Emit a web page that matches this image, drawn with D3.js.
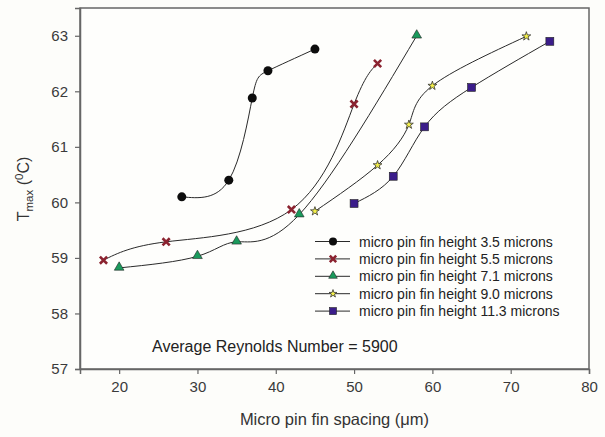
<!DOCTYPE html>
<html>
<head>
<meta charset="utf-8">
<script src="https://cdn.jsdelivr.net/npm/d3@7"></script>
<style>
  body { margin: 0; background: #fdfdfa; }
  svg { font-family: "Liberation Sans", Arial, sans-serif; }
</style>
</head>
<body>
<svg width="605" height="437"></svg>
<script>
// data
let labels = ["micro pin fin height 3.5 microns", "micro pin fin height 5.5 microns",
  "micro pin fin height 7.1 microns", "micro pin fin height 9.0 microns",
  "micro pin fin height 11.3 microns"]
let x35 = [28, 34, 37, 39, 45]
let y35 = [60.1, 60.4, 61.88, 62.37, 62.76]
let x55 = [18, 26, 42, 50, 53]
let y55 = [58.96, 59.29, 59.87, 61.77, 62.5]
let x71 = [20, 30, 35, 43, 58]
let y71 = [58.82, 59.03, 59.29, 59.78, 63.0]
let x90 = [45, 53, 57, 60, 72]
let y90 = [59.84, 60.67, 61.4, 62.1, 62.99]
let x113 = [50, 55, 59, 65, 75]
let y113 = [59.98, 60.47, 61.36, 62.07, 62.9]
let xTicks = [20, 30, 40, 50, 60, 70, 80]
let yTicks = [57, 58, 59, 60, 61, 62, 63]

let series = [
  { xs: x35, ys: y35, sym: "circle", fill: "#0d0d0d" },
  { xs: x55, ys: y55, sym: "cross", fill: "#8b2330" },
  { xs: x71, ys: y71, sym: "triangle", fill: "#1a9a5c" },
  { xs: x90, ys: y90, sym: "star", fill: "#f4f04a" },
  { xs: x113, ys: y113, sym: "square", fill: "#3b1d8a" }
]

let svg = d3.select("svg")
let pLeft = 80, pRight = 589, pTop = 8, pBottom = 369

let x = d3.scaleLinear().domain([15, 80]).range([pLeft, pRight])
let y = d3.scaleLinear().domain([57, 63.5]).range([pBottom, pTop])

// frame
svg.append("rect").attr("x", pLeft).attr("y", pTop)
  .attr("width", pRight - pLeft).attr("height", pBottom - pTop)
  .attr("fill", "#fefefc").attr("stroke", "#666").attr("stroke-width", 1.5)

let xAxis = svg.append("g").attr("transform", "translate(0," + pBottom + ")")
  .call(d3.axisBottom(x).tickValues(xTicks).tickFormat(d3.format("d")).tickSize(5).tickPadding(7))
let yAxis = svg.append("g").attr("transform", "translate(" + pLeft + ",0)")
  .call(d3.axisLeft(y).tickValues(yTicks).tickFormat(d3.format("d")).tickSize(5).tickPadding(7))
svg.selectAll(".domain").attr("stroke", "#666").attr("stroke-width", 1.5)
svg.selectAll(".tick line").attr("stroke", "#666").attr("stroke-width", 1.2)
svg.selectAll(".tick text").attr("fill", "#3a3a3a").style("font-size", "15px")
  .style("font-family", "Liberation Sans, Arial, sans-serif")

// axis titles
svg.append("text").attr("x", 334.5).attr("y", 425).attr("text-anchor", "middle")
  .attr("fill", "#333").style("font-size", "16.5px")
  .text("Micro pin fin spacing (\u03bcm)")

let yt = svg.append("text").attr("transform", "translate(29,189) rotate(-90)")
  .attr("text-anchor", "middle").attr("fill", "#333").style("font-size", "16px")
yt.append("tspan").text("T")
yt.append("tspan").attr("dy", 4).style("font-size", "11.5px").text("max")
yt.append("tspan").attr("dy", -4).text(" (")
yt.append("tspan").attr("dy", -6).style("font-size", "11.5px").text("0")
yt.append("tspan").attr("dy", 6).text("C)")

// marker shapes
function marker(g, sym, fill, size) {
  if (sym === "circle") {
    g.append("circle").attr("r", size * 0.5).attr("fill", fill)
  } else if (sym === "cross") {
    let s = size * 0.4
    g.append("path").attr("d", `M${-s},${-s}L${s},${s}M${-s},${s}L${s},${-s}`)
      .attr("stroke", fill).attr("stroke-width", 2.6)
  } else if (sym === "triangle") {
    g.append("path").attr("d", d3.symbol(d3.symbolTriangle, size * size * 0.5)())
      .attr("transform", "translate(0,-0.5)")
      .attr("fill", fill).attr("stroke", "#222").attr("stroke-width", 0.6)
  } else if (sym === "star") {
    g.append("path").attr("d", d3.symbol(d3.symbolStar, size * size * 0.3)())
      .attr("fill", fill).attr("stroke", "#333").attr("stroke-width", 0.8)
  } else {
    let s = size * 0.44
    g.append("rect").attr("x", -s).attr("y", -s).attr("width", 2 * s).attr("height", 2 * s)
      .attr("fill", fill).attr("stroke", "#222").attr("stroke-width", 0.6)
  }
}

let line = d3.line().x(d => x(d[0])).y(d => y(d[1])).curve(d3.curveNatural)

series.forEach(s => {
  let pts = s.xs.map((v, i) => [v, s.ys[i]])
  svg.append("path").datum(pts).attr("d", line)
    .attr("fill", "none").attr("stroke", "#2a2a2a").attr("stroke-width", 1)
})
series.forEach(s => {
  s.xs.forEach((v, i) => {
    let g = svg.append("g").attr("transform", `translate(${x(v)},${y(s.ys[i])})`)
    marker(g, s.sym, s.fill, 9)
  })
})

// legend
let lg = svg.append("g")
labels.forEach((t, i) => {
  let ly = 241.5 + i * 17.4
  lg.append("line").attr("x1", 315).attr("x2", 350).attr("y1", ly).attr("y2", ly)
    .attr("stroke", "#2a2a2a").attr("stroke-width", 1)
  let g = lg.append("g").attr("transform", `translate(333,${ly})`)
  marker(g, series[i].sym, series[i].fill, 8)
  lg.append("text").attr("x", 359).attr("y", ly + 5).attr("fill", "#222")
    .style("font-size", "14px").text(t)
})

svg.append("text").attr("x", 152).attr("y", 352).attr("fill", "#222")
  .style("font-size", "16px").text("Average Reynolds Number = 5900")
</script>
</body>
</html>
